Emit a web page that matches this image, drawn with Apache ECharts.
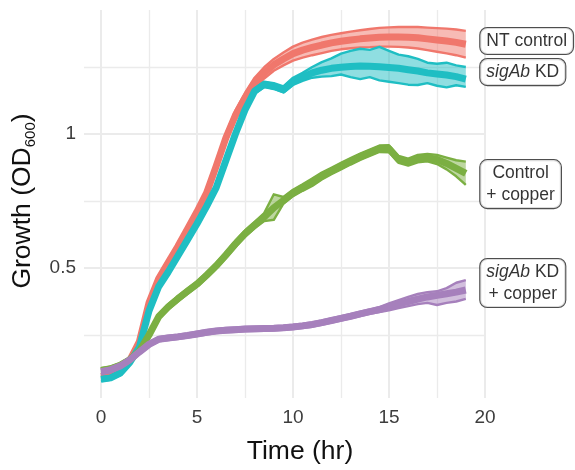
<!DOCTYPE html>
<html><head><meta charset="utf-8">
<script src="https://cdn.jsdelivr.net/npm/echarts@6/dist/echarts.min.js"></script>
<style>html,body{margin:0;padding:0;background:#fff}#c{width:575px;height:470px}</style>
</head><body><div id="c"></div>
<script>
const times = [0,0.5,1,1.5,2,2.5,3,3.5,4,4.5,5,5.5,6,6.5,7,7.5,8,8.5,9,9.5,10,10.5,11,11.5,12,12.5,13,13.5,14,14.5,15,15.5,16,16.5,17,17.5,18,18.5,19];

const ntMean = [0.095,0.1,0.115,0.155,0.225,0.37,0.46,0.52,0.58,0.645,0.71,0.78,0.88,0.985,1.07,1.135,1.19,1.228,1.258,1.28,1.3,1.313,1.323,1.332,1.34,1.346,1.351,1.355,1.358,1.361,1.362,1.362,1.361,1.359,1.355,1.351,1.347,1.342,1.335];
const ntLo = [0.087,0.092,0.107,0.145,0.213,0.358,0.448,0.508,0.568,0.633,0.697,0.766,0.865,0.969,1.053,1.117,1.17,1.207,1.236,1.256,1.274,1.285,1.294,1.302,1.31,1.316,1.32,1.323,1.324,1.326,1.326,1.325,1.323,1.319,1.313,1.307,1.301,1.294,1.285];
const ntHi = [0.103,0.108,0.123,0.165,0.237,0.382,0.472,0.532,0.592,0.657,0.723,0.794,0.895,1.001,1.087,1.153,1.21,1.249,1.28,1.304,1.326,1.341,1.352,1.362,1.37,1.376,1.382,1.387,1.392,1.396,1.398,1.399,1.399,1.399,1.397,1.395,1.393,1.39,1.385];

const kdMean = [0.085,0.09,0.108,0.148,0.205,0.34,0.43,0.485,0.545,0.605,0.665,0.73,0.8,0.9,1.0,1.09,1.16,1.185,1.178,1.165,1.195,1.212,1.228,1.238,1.245,1.249,1.252,1.254,1.253,1.251,1.248,1.245,1.24,1.235,1.228,1.224,1.22,1.214,1.205];
const kdLo = [0.078,0.083,0.1,0.139,0.196,0.33,0.42,0.475,0.535,0.595,0.655,0.72,0.79,0.89,0.99,1.08,1.15,1.175,1.168,1.155,1.183,1.198,1.21,1.214,1.216,1.222,1.212,1.205,1.212,1.2,1.195,1.19,1.184,1.183,1.19,1.18,1.174,1.182,1.176];
const kdHi = [0.092,0.097,0.116,0.157,0.214,0.35,0.44,0.495,0.555,0.615,0.675,0.74,0.81,0.91,1.01,1.1,1.17,1.195,1.19,1.178,1.21,1.228,1.25,1.268,1.282,1.3,1.31,1.318,1.314,1.325,1.31,1.296,1.29,1.28,1.266,1.262,1.266,1.256,1.25];

const cuMean = [0.118,0.124,0.137,0.158,0.19,0.25,0.318,0.355,0.385,0.413,0.44,0.473,0.508,0.548,0.59,0.628,0.66,0.69,0.725,0.752,0.78,0.8,0.82,0.843,0.862,0.88,0.898,0.915,0.93,0.945,0.945,0.905,0.895,0.908,0.912,0.905,0.89,0.872,0.853];
const cuLo = [0.11,0.116,0.129,0.15,0.182,0.24,0.308,0.345,0.375,0.403,0.43,0.462,0.497,0.537,0.578,0.616,0.648,0.675,0.68,0.74,0.768,0.788,0.806,0.83,0.85,0.868,0.886,0.903,0.918,0.933,0.932,0.892,0.882,0.894,0.898,0.888,0.868,0.842,0.81];
const cuHi = [0.126,0.132,0.145,0.166,0.198,0.26,0.328,0.365,0.395,0.423,0.45,0.484,0.519,0.559,0.602,0.64,0.672,0.705,0.775,0.765,0.792,0.812,0.834,0.856,0.874,0.892,0.91,0.927,0.942,0.957,0.958,0.918,0.908,0.922,0.926,0.922,0.912,0.902,0.897];

const kdCuMean = [0.113,0.12,0.134,0.157,0.187,0.215,0.234,0.239,0.243,0.248,0.254,0.26,0.265,0.268,0.27,0.272,0.273,0.274,0.275,0.277,0.28,0.284,0.289,0.296,0.304,0.312,0.32,0.329,0.337,0.345,0.355,0.365,0.375,0.384,0.392,0.398,0.404,0.41,0.418];
const kdCuLo = [0.105,0.112,0.126,0.149,0.179,0.207,0.226,0.231,0.235,0.24,0.246,0.252,0.257,0.26,0.262,0.264,0.265,0.266,0.267,0.269,0.272,0.276,0.281,0.288,0.296,0.304,0.312,0.321,0.329,0.336,0.342,0.35,0.358,0.365,0.37,0.362,0.37,0.375,0.385];
const kdCuHi = [0.121,0.128,0.142,0.165,0.195,0.223,0.242,0.247,0.251,0.256,0.262,0.268,0.273,0.276,0.278,0.28,0.281,0.282,0.283,0.285,0.288,0.292,0.297,0.304,0.312,0.32,0.328,0.337,0.345,0.354,0.368,0.38,0.392,0.403,0.41,0.413,0.425,0.445,0.455];

const groupNames = ['NT control','sigAb KD','Control + copper','sigAb KD + copper'];
const groupLabels = ['{n|NT control}','{i|sigAb}{n| KD}','{n|Control}\n{n|+ copper}','{i|sigAb}{n| KD}\n{n|+ copper}'];
const labelX = [19,19,19,19];
const labelY = [1.347,1.231,0.813,0.444];
const colors = ['#F0776C','#1FBEC3','#7BAF42','#A680BC'];
const xTicks = [0,5,10,15,20];
const yTickLabels = ['0.5','1'];

const FONT = 'Liberation Sans, Arial, Helvetica, sans-serif';
const groups = [
  {mean: ntMean, lo: ntLo, hi: ntHi},
  {mean: kdMean, lo: kdLo, hi: kdHi},
  {mean: cuMean, lo: cuLo, hi: cuHi},
  {mean: kdCuMean, lo: kdCuLo, hi: kdCuHi}
];

const series = [];
groups.forEach((g, k) => {
  const col = colors[k];
  series.push({
    type: 'custom', name: groupNames[k] + ' band', xAxisIndex: 0, yAxisIndex: 0,
    silent: true, clip: true,
    data: [[times[0], g.mean[0]]],
    renderItem: (params, api) => {
      const pts = [];
      for (let i = 0; i < times.length; i++) pts.push(api.coord([times[i], g.hi[i]]));
      for (let i = times.length - 1; i >= 0; i--) pts.push(api.coord([times[i], g.lo[i]]));
      return {type: 'polygon', shape: {points: pts}, style: {fill: col, opacity: 0.5}};
    }
  });
  [g.lo, g.hi].forEach(arr => {
    series.push({
      type: 'line', xAxisIndex: 0, yAxisIndex: 0, silent: true, showSymbol: false, symbol: 'none',
      data: times.map((t, i) => [t, arr[i]]),
      lineStyle: {color: col, width: 2.4, join: 'round', cap: 'butt'}
    });
  });
  series.push({
    type: 'line', name: groupNames[k], xAxisIndex: 0, yAxisIndex: 0, silent: true, showSymbol: false, symbol: 'none',
    data: times.map((t, i) => [t, g.mean[i]]),
    lineStyle: {color: col, width: 7, join: 'round', cap: 'butt'}
  });
});

const richCommon = {
  n: {fontFamily: FONT, fontSize: 17.5, color: '#000', lineHeight: 22, align: 'center'},
  i: {fontFamily: FONT, fontSize: 17.5, color: '#000', lineHeight: 22, fontStyle: 'italic', align: 'center'}
};
series.push({
  type: 'scatter', xAxisIndex: 0, yAxisIndex: 0, silent: true, symbolSize: 1, clip: false,
  itemStyle: {color: 'rgba(0,0,0,0)'},
  data: labelY.map((y, k) => ({name: groupLabels[k], value: [labelX[k], y]})),
  label: {
    show: true, position: 'right', distance: 14, formatter: p => p.name,
    fontFamily: FONT, fontSize: 17.5, color: '#000', lineHeight: 22,
    backgroundColor: '#fff', borderColor: '#222', borderWidth: 1.1, borderRadius: 7,
    padding: [2, 6, 2, 6], rich: richCommon
  },
  labelLayout: {hideOverlap: false},
  z: 10
});

const gridLineColor = '#ebebeb';
const option = {
  animation: false,
  backgroundColor: '#fff',
  grid: [
    {left: 84, top: 10, width: 402, height: 388, outerBoundsMode: 'none', containLabel: false},
    {left: 101, top: 10, width: 384, height: 388, outerBoundsMode: 'none', containLabel: false},
    {left: 84, top: 0, width: 402, height: 402, outerBoundsMode: 'none', containLabel: false}
  ],
  xAxis: [
    {gridIndex: 0, type: 'value', min: -0.8854, max: 20.052, show: false},
    {gridIndex: 1, type: 'value', min: xTicks[0], max: xTicks[xTicks.length - 1], interval: 5,
      axisLine: {show: false}, axisTick: {show: false},
      axisLabel: {fontFamily: FONT, fontSize: 19, color: '#3d3d3d', margin: 10},
      splitLine: {show: true, lineStyle: {color: gridLineColor, width: 2}},
      minorTick: {show: false, splitNumber: 2},
      minorSplitLine: {show: true, lineStyle: {color: gridLineColor, width: 1.3}},
      name: 'Time (hr)', nameLocation: 'middle', nameGap: 40,
      nameTextStyle: {fontFamily: FONT, fontSize: 26.5, color: '#111', padding: [0, 0, 0, 14]}
    },
    {gridIndex: 2, type: 'value', min: 0, max: 1, show: false}
  ],
  yAxis: [
    {gridIndex: 0, type: 'value', min: 0.014925, max: 1.462687, show: false},
    {gridIndex: 1, type: 'value', min: 0, max: 1, show: false},
    {gridIndex: 2, type: 'value', min: 0, max: 1.5, interval: 0.5,
      axisLine: {show: false}, axisTick: {show: false},
      axisLabel: {fontFamily: FONT, fontSize: 19, color: '#3d3d3d', margin: 8,
        formatter: v => (Math.abs(v - 0.5) < 1e-9 ? yTickLabels[0] : (Math.abs(v - 1) < 1e-9 ? yTickLabels[1] : ''))},
      splitLine: {show: true, showMinLine: false, showMaxLine: false, lineStyle: {color: gridLineColor, width: 2}},
      minorTick: {show: false, splitNumber: 2},
      minorSplitLine: {show: true, lineStyle: {color: gridLineColor, width: 1.3}},
      name: '{a|Growth (OD}{s|600}{a|)}', nameLocation: 'middle', nameGap: 40, nameRotate: 90,
      nameTextStyle: {fontFamily: FONT, fontSize: 26.5, color: '#111',
        rich: {
          a: {fontFamily: FONT, fontSize: 26.5, color: '#111', lineHeight: 32},
          s: {fontFamily: FONT, fontSize: 15, color: '#111', lineHeight: 15, verticalAlign: 'bottom'}
        }}
    }
  ],
  series: series
};
const chart = echarts.init(document.getElementById('c'), null, {renderer: 'canvas'});
chart.setOption(option);
</script>
</body></html>
